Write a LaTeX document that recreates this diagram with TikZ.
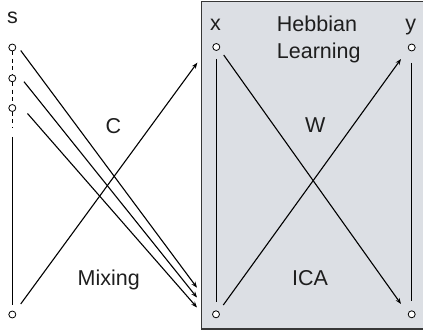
\documentclass[tikz,border=0pt]{standalone}
\usepackage{fontspec}
\setmainfont{Liberation Sans}
\usetikzlibrary{arrows.meta}
\definecolor{boxfill}{RGB}{220,223,228}
\definecolor{boxline}{RGB}{55,55,55}
\definecolor{txt}{RGB}{30,30,30}
\tikzset{
  unit/.style={circle,draw=black,fill=white,line width=0.8pt,minimum size=7pt,inner sep=0pt},
  lbl/.style={font=\fontsize{21.5}{24}\selectfont,text=txt,inner sep=0pt,anchor=base},
  conn/.style={line width=1.1pt,black},
  arr/.style={conn,-{Stealth[length=6pt,width=4.5pt]}},
  col/.style={line width=0.8pt,black}
}
\begin{document}
\begin{tikzpicture}[x=1pt,y=-1pt]
\useasboundingbox (0,0) rectangle (423,334);
% box
\node[draw=boxline,fill=boxfill,line width=1.5pt,minimum width=222pt,minimum height=327pt,inner sep=0pt,anchor=north west] (box) at (200.5,1) {};
% units
\node[unit] (s1) at (12.3,47.5) {};
\node[unit] (s2) at (12.3,78.3) {};
\node[unit] (s3) at (12.3,108) {};
\node[unit] (sb) at (12.3,314.5) {};
\node[unit] (xt) at (216.3,47) {};
\node[unit] (xb) at (216,314.3) {};
\node[unit] (yt) at (411.7,47.5) {};
\node[unit] (yb) at (411.7,314.3) {};
% column lines
\coordinate (sd) at (12.3,128);
\coordinate (ss) at (12.3,137);
\coordinate (se) at (12.3,305);
\draw[col,dash pattern=on 4pt off 3.5pt] (s1) -- (s2);
\draw[col,dash pattern=on 4pt off 3.5pt] (s2) -- (s3);
\draw[col,dash pattern=on 4pt off 3.5pt] (s3) -- (sd);
\draw[col] (ss) -- (se);
\coordinate (xs) at (216.3,59);
\coordinate (xe) at (216.3,302);
\draw[col] (xs) -- (xe);
\coordinate (ys) at (411.7,63);
\coordinate (ye) at (411.7,301);
\draw[col] (ys) -- (ye);
% mixing arrows
\coordinate (a1s) at (20.7,50.5);
\coordinate (a2s) at (24,81.7);
\coordinate (a3s) at (27.5,113.5);
\coordinate (a1e) at (197,287.7);
\coordinate (a2e) at (197,297.5);
\coordinate (a3e) at (197,307.5);
\draw[arr] (a1s) -- (a1e);
\draw[arr] (a2s) -- (a2e);
\draw[arr] (a3s) -- (a3e);
\coordinate (a4s) at (20.7,304);
\coordinate (a4e) at (197.3,62.7);
\draw[arr] (a4s) -- (a4e);
% learning arrows
\coordinate (b1s) at (223.7,55);
\coordinate (b1e) at (401,304);
\draw[arr] (b1s) -- (b1e);
\coordinate (b2s) at (223.3,305);
\coordinate (b2e) at (401,59);
\draw[arr] (b2s) -- (b2e);
% labels
\node[lbl] (ls) at (12.5,23.3) {s};
\node[lbl] (lx) at (215.5,30.7) {x};
\node[lbl] (ly) at (410.7,30.7) {y};
\node[lbl,anchor=base west] (hebb) at (276.7,31.7) {Hebbian};
\node[lbl,anchor=base west] (learn) at (276.7,58.3) {Learning};
\node[lbl] (lc) at (113.3,133.3) {C};
\node[lbl] (lw) at (315.3,132.3) {W};
\node[lbl] (lmix) at (108.7,285.7) {Mixing};
\node[lbl] (lica) at (310,285.7) {ICA};
\end{tikzpicture}
\end{document}
